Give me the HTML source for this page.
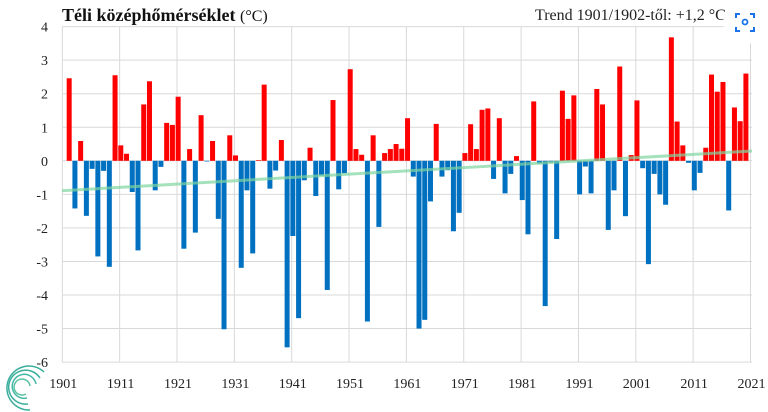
<!DOCTYPE html>
<html><head><meta charset="utf-8"><style>
html,body{margin:0;padding:0;background:#fff;width:768px;height:412px;overflow:hidden}
svg{display:block}
text{font-family:"Liberation Serif",serif}
</style></head><body>
<svg id="s" width="768" height="412" viewBox="0 0 768 412">
<rect width="768" height="412" fill="#fff"/>
<g id="grid" stroke="#d9d9d9" stroke-width="1"></g>
<g id="bars"></g>
<line x1="62" y1="190.7" x2="752" y2="151" stroke="#7fd6a0" stroke-opacity="0.7" stroke-width="3"/>
<g id="lbl" font-size="14" fill="#222"></g>
<text x="62" y="21" font-size="18" font-weight="bold" fill="#111">Téli középhőmérséklet <tspan font-weight="normal" font-size="16">(°C)</tspan></text>
<text x="535" y="20" font-size="16" fill="#222">Trend 1901/1902-től: +1,2 °C</text>
<circle cx="745" cy="22" r="22" fill="#fff" opacity="0.9"/>
<path d="M736 18v-4h4M750 14h4v4M754 27v4h-4M740 31h-4v-4" fill="none" stroke="#1a73e8" stroke-width="2"/>
<circle cx="745" cy="22" r="2.5" fill="none" stroke="#1a73e8" stroke-width="1.8"/>
<g fill="none" stroke="#3aae9c" stroke-width="1.5">
<path d="M30 410 A22 22 0 1 1 44 372"/>
<path d="M28 404 A17 17 0 1 1 40 378"/>
<path d="M27 398 A12 12 0 1 1 36 384" stroke="#47b8a8"/>
<path d="M26 394 A8 8 0 1 1 30 386" stroke="#5bc3a2"/>
</g>
</svg>
<script>
var v=[2.46,-1.42,0.59,-1.64,-0.24,-2.85,-0.3,-3.16,2.55,0.46,0.21,-0.93,-2.67,1.68,2.37,-0.88,-0.18,1.13,1.07,1.91,-2.62,0.35,-2.14,1.36,-0.02,0.59,-1.73,-5.02,0.76,0.16,-3.19,-0.88,-2.76,0.02,2.27,-0.83,-0.29,0.62,-5.56,-2.24,-4.69,-0.58,0.39,-1.05,-0.44,-3.85,1.81,-0.85,-0.37,2.73,0.35,0.18,-4.79,0.76,-1.97,0.23,0.35,0.5,0.36,1.27,-0.47,-5.0,-4.74,-1.21,1.1,-0.47,-0.28,-2.1,-1.55,0.23,1.09,0.35,1.52,1.56,-0.54,1.27,-0.97,-0.39,0.14,-1.17,-2.19,1.77,-0.08,-4.33,-0.05,-2.33,2.09,1.25,1.95,-1.0,-0.17,-0.97,2.14,1.68,-2.06,-0.88,2.81,-1.65,0.17,1.8,-0.22,-3.08,-0.39,-1.0,-1.31,3.68,1.17,0.46,-0.06,-0.88,-0.36,0.39,2.57,2.06,2.35,-1.48,1.59,1.18,2.6];
var NS="http://www.w3.org/2000/svg";
function el(t,a,p){var e=document.createElementNS(NS,t);for(var k in a)e.setAttribute(k,a[k]);p.appendChild(e);return e;}
var g=document.getElementById('grid'),b=document.getElementById('bars'),l=document.getElementById('lbl');
var X0=62.3,PX=5.735,Y0=160.8,U=33.55;
for(var i=4;i>=-6;i--){var y=Y0-i*U;el('line',{x1:62,x2:752,y1:y,y2:y},g);var t=el('text',{x:48,y:y+5,'text-anchor':'end'},l);t.textContent=i;}
for(var j=0;j<=12;j++){var x=X0+j*10*PX;el('line',{x1:x,x2:x,y1:Y0-4*U,y2:Y0+6*U},g);var t=el('text',{x:x+1,y:388,'text-anchor':'middle'},l);t.textContent=1901+j*10;}
for(var i=0;i<v.length;i++){var c=X0+(i+1.2)*PX;var h=v[i]*U;el('rect',{x:c-2.5,width:5,y:h>0?Y0-h:Y0,height:Math.abs(h)+0.01,fill:v[i]>0?'#ff0000':'#0070c0'},b);}
</script>
</body></html>
